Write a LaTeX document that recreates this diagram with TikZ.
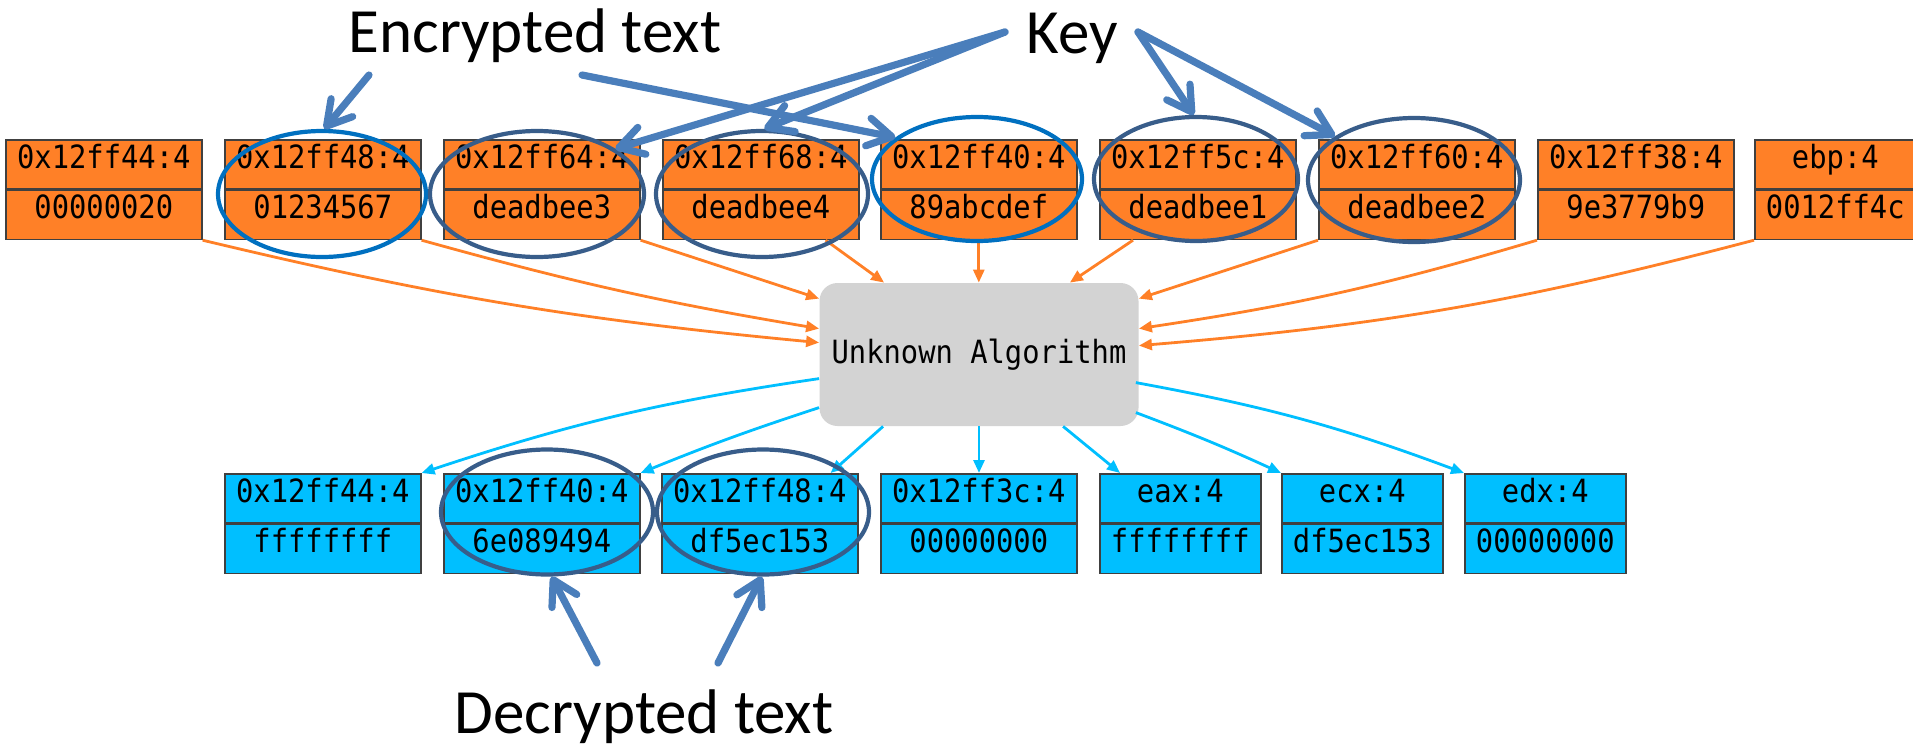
\documentclass[tikz,border=0pt]{standalone}
\usepackage{fontspec}
\setmainfont{Carlito}
\newfontfamily\monofont[FakeStretch=0.9]{DejaVu Sans Mono}
\usetikzlibrary{arrows.meta,calc,shapes.geometric}
\definecolor{orng}{RGB}{255,128,39}
\definecolor{skyb}{RGB}{0,191,255}
\definecolor{boxline}{RGB}{64,64,64}
\definecolor{algfill}{RGB}{211,211,211}
\definecolor{brightblue}{RGB}{0,112,192}
\definecolor{darkblue}{RGB}{56,93,138}
\definecolor{callcol}{RGB}{74,126,187}
\begin{document}
\begin{tikzpicture}[x=0.5pt,y=-0.5pt,
  cell/.style={draw=boxline,line width=0.8pt,anchor=north west,inner sep=0pt,
    minimum height=24.5pt,text height=7.5pt,text depth=3.5pt,
    font=\monofont\fontsize{16}{18}\selectfont},
  wcell/.style={minimum width=98pt},
  ncell/.style={minimum width=80.5pt},
  topcell/.style={cell,fill=orng},
  botcell/.style={cell,fill=skyb},
  algbox/.style={fill=algfill,rounded corners=9pt,minimum width=159.5pt,
    minimum height=71.5pt,inner sep=0pt,font=\monofont\fontsize{16}{18}\selectfont},
  lbl/.style={font=\fontsize{31.5}{36}\selectfont,inner sep=0pt,anchor=base},
  oconn/.style={draw=orng,line width=1.4pt,-{Triangle[length=6.5pt,width=5.5pt]}},
  cconn/.style={draw=skyb,line width=1.4pt,-{Triangle[length=6.5pt,width=5.5pt]}},
  ell/.style={ellipse,line width=2.1pt,inner sep=0pt},
  callout/.style={draw=callcol,line width=3.6pt,line cap=round,
    -{Straight Barb[round,length=12pt,width=14pt]}}
]
\useasboundingbox (0,0) rectangle (1913,745);

% top boxes
\node[topcell,wcell] (t1h) at (5,139) {0x12ff44:4};
\node[topcell,wcell] (t1v) at (t1h.south west) {00000020};
\node[topcell,wcell] (t2h) at (224,139) {0x12ff48:4};
\node[topcell,wcell] (t2v) at (t2h.south west) {01234567};
\node[topcell,wcell] (t3h) at (443,139) {0x12ff64:4};
\node[topcell,wcell] (t3v) at (t3h.south west) {deadbee3};
\node[topcell,wcell] (t4h) at (662,139) {0x12ff68:4};
\node[topcell,wcell] (t4v) at (t4h.south west) {deadbee4};
\node[topcell,wcell] (t5h) at (880,139) {0x12ff40:4};
\node[topcell,wcell] (t5v) at (t5h.south west) {89abcdef};
\node[topcell,wcell] (t6h) at (1099,139) {0x12ff5c:4};
\node[topcell,wcell] (t6v) at (t6h.south west) {deadbee1};
\node[topcell,wcell] (t7h) at (1318,139) {0x12ff60:4};
\node[topcell,wcell] (t7v) at (t7h.south west) {deadbee2};
\node[topcell,wcell] (t8h) at (1537,139) {0x12ff38:4};
\node[topcell,wcell] (t8v) at (t8h.south west) {9e3779b9};
\node[topcell,ncell] (t9h) at (1754,139) {ebp:4};
\node[topcell,ncell] (t9v) at (t9h.south west) {0012ff4c};

% bottom boxes
\node[botcell,wcell] (b1h) at (224,473) {0x12ff44:4};
\node[botcell,wcell] (b1v) at (b1h.south west) {ffffffff};
\node[botcell,wcell] (b2h) at (443,473) {0x12ff40:4};
\node[botcell,wcell] (b2v) at (b2h.south west) {6e089494};
\node[botcell,wcell] (b3h) at (661,473) {0x12ff48:4};
\node[botcell,wcell] (b3v) at (b3h.south west) {df5ec153};
\node[botcell,wcell] (b4h) at (880,473) {0x12ff3c:4};
\node[botcell,wcell] (b4v) at (b4h.south west) {00000000};
\node[botcell,ncell] (b5h) at (1099,473) {eax:4};
\node[botcell,ncell] (b5v) at (b5h.south west) {ffffffff};
\node[botcell,ncell] (b6h) at (1281,473) {ecx:4};
\node[botcell,ncell] (b6v) at (b6h.south west) {df5ec153};
\node[botcell,ncell] (b7h) at (1464,473) {edx:4};
\node[botcell,ncell] (b7v) at (b7h.south west) {00000000};

% algorithm
\node[algbox] (alg) at (979,354.5) {Unknown Algorithm};

% labels
\node[lbl] (enc) at (535,52) {Encrypted text};
\node[lbl] (key) at (1072,53) {Key};
\node[lbl] (dec) at (644,733) {Decrypted text};

% orange connectors
\draw[oconn] (t1v.south east) to[bend right=4] ($(alg.north west)+(0,60)$);
\draw[oconn] (t2v.south east) to[bend right=3] ($(alg.north west)+(0,46)$);
\draw[oconn] (t3v.south east) -- ($(alg.north west)+(0,16)$);
\draw[oconn] ($(t4v.south east)+(-34,0)$) -- ($(alg.north west)+(65,0)$);
\draw[oconn] (t5v.south) -- (t5v.south |- alg.north);
\draw[oconn] ($(t6v.south west)+(34,0)$) -- ($(alg.north east)+(-69,0)$);
\draw[oconn] (t7v.south west) -- ($(alg.north east)+(0,16)$);
\draw[oconn] (t8v.south west) to[bend left=4] ($(alg.north east)+(0,46)$);
\draw[oconn] (t9v.south west) to[bend left=5] ($(alg.north east)+(0,63)$);

% cyan connectors
\draw[cconn] ($(alg.north west)+(0,96)$) to[bend right=5] (b1h.north east);
\draw[cconn] ($(alg.north west)+(0,125)$) to[bend right=2] (b2h.north east);
\draw[cconn] ($(alg.south west)+(64,0)$) -- ($(b3h.north east)+(-28,0)$);
\draw[cconn] (alg.south) -- (alg.south |- b4h.north);
\draw[cconn] ($(alg.south west)+(244,0)$) -- ($(b5h.north west)+(21,0)$);
\draw[cconn] ($(alg.north east)+(-3,130)$) to[bend left=2] (b6h.north west);
\draw[cconn] ($(alg.north east)+(-3,100)$) to[bend left=5] (b7h.north west);

% ellipses
\node[ell,draw=brightblue,minimum width=104pt,minimum height=63pt] (e2) at (322,194) {};
\node[ell,draw=darkblue,minimum width=107pt,minimum height=63pt] (e3) at (537,194) {};
\node[ell,draw=darkblue,minimum width=106pt,minimum height=63pt] (e4) at (762,194) {};
\node[ell,draw=brightblue,minimum width=105pt,minimum height=62pt] (e5) at (977,179) {};
\node[ell,draw=darkblue,minimum width=102pt,minimum height=62pt] (e6) at (1196,179) {};
\node[ell,draw=darkblue,minimum width=106pt,minimum height=62pt] (e7) at (1414,180) {};
\node[ell,draw=darkblue,minimum width=106pt,minimum height=62.5pt] (d2) at (547,512) {};
\node[ell,draw=darkblue,minimum width=106pt,minimum height=62.5pt] (d3) at (763,512) {};

% callout arrows
\draw[callout] ($(enc.base)+(-166,23)$) -- (e2.88);
\draw[callout] ($(enc.base)+(47,23)$) -- (e5.153);
\draw[callout] ($(key.base)+(-67,-21)$) -- (e3.30);
\draw[callout] ($(key.base)+(-67,-21)$) -- (e4.88);
\draw[callout] ($(key.base)+(66,-21)$) -- (e6.92);
\draw[callout] ($(key.base)+(66,-21)$) -- (e7.151);
\draw[callout] ($(dec.base)+(-47,-70)$) -- (d2.-86);
\draw[callout] ($(dec.base)+(74,-70)$) -- (d3.-91);
\end{tikzpicture}
\end{document}
